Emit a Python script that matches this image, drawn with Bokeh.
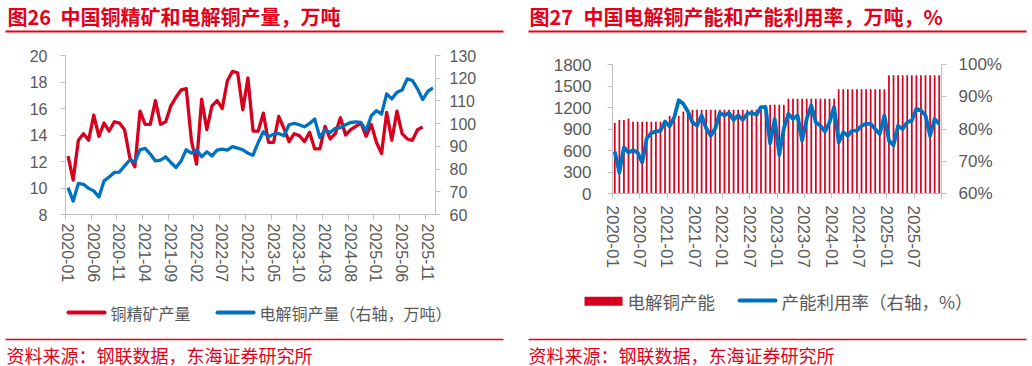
from bokeh.plotting import figure
from bokeh.models import Range1d, LinearAxis, FixedTicker, ColumnDataSource
from bokeh.core.properties import value
from bokeh.transform import dodge
from bokeh.layouts import row, column
from bokeh.embed import file_html
from bokeh.resources import INLINE

# ---------------- data ----------------
months = [f"{y}-{m:02d}" for y in range(2020, 2026) for m in range(1, 13)]

# 铜精矿产量 (万吨, left axis) 2020-01 .. 2025-10
conc = [12.4, 10.6, 13.6, 14.1, 13.6, 15.5, 13.9, 14.9, 14.3, 15.0, 14.9, 14.4,
        12.3, 11.6, 15.8, 14.8, 14.8, 16.6, 14.8, 15.0, 16.2, 16.85, 17.4, 17.5,
        13.6, 11.8, 16.7, 14.4, 16.2, 16.6, 16.0, 18.1, 18.8, 18.7, 15.9, 18.3,
        14.3, 14.3, 15.65, 13.45, 13.45, 15.4, 14.5, 13.5, 14.1, 13.95, 13.5, 14.2,
        12.95, 12.95, 14.65, 13.7, 14.1, 15.3, 14.0, 14.4, 14.65, 14.9, 13.9, 14.8,
        13.45, 12.6, 15.7, 13.6, 15.8, 14.1, 13.7, 13.6, 14.4, 14.6]

# 电解铜产量 (万吨, right axis) 2020-01 .. 2025-12
elec = [71.8, 65.9, 73.7, 73.3, 71.5, 70.4, 67.7, 74.8, 76.5, 78.5, 78.7, 81.4,
        84.0, 83.2, 88.5, 89.1, 86.6, 83.6, 83.9, 85.4, 82.9, 80.7, 83.6, 88.5,
        87.0, 88.5, 85.4, 87.6, 85.8, 88.3, 88.8, 88.3, 89.9, 89.2, 88.5, 87.0,
        86.1, 91.7, 96.4, 94.2, 95.4, 95.7, 94.7, 99.5, 100.1, 99.5, 98.6, 100.1,
        102.0, 93.9, 97.2, 96.1, 97.9, 98.3, 99.5, 100.5, 100.8, 100.5, 96.9, 103.5,
        105.7, 104.2, 113.1, 110.9, 113.8, 114.8, 119.7, 119.0, 115.3, 110.6, 114.2, 115.7]

# 电解铜产能 (万吨) 2020-01 .. 2025-12
cap = [985, 1025, 1025, 1045, 1000, 1000, 1000, 1000, 1000, 1000, 1000, 1000,
       1080, 1080, 1080, 1145, 1145, 1170, 1170, 1170, 1170, 1170, 1170, 1170,
       1170, 1170, 1170, 1170, 1170, 1170, 1170, 1170, 1170, 1237, 1237, 1237,
       1237, 1237, 1322, 1322, 1322, 1322, 1322, 1322, 1322, 1322, 1322, 1322,
       1322, 1453, 1453, 1453, 1453, 1453, 1453, 1453, 1453, 1453, 1453, 1453,
       1650, 1650, 1650, 1650, 1650, 1650, 1650, 1650, 1650, 1650, 1650, 1650]

# 产能利用率 (%) 2020-01 .. 2025-12
util = [73.0, 66.5, 74.3, 72.7, 73.4, 72.7, 69.6, 77.1, 78.75, 79.2, 79.5, 82.3,
        80.8, 83.6, 88.9, 87.8, 85.4, 82.1, 81.0, 84.2, 80.2, 77.9, 80.2, 85.0,
        84.2, 85.0, 82.8, 84.2, 82.8, 84.7, 85.0, 84.4, 86.8, 86.8, 75.5, 83.1,
        72.0, 80.2, 84.7, 83.1, 84.2, 76.4, 83.1, 87.3, 82.1, 81.0, 79.2, 82.1,
        86.8, 75.8, 79.0, 77.9, 79.5, 79.5, 81.0, 81.6, 81.6, 80.0, 78.4, 84.2,
        76.4, 75.0, 81.0, 80.0, 82.1, 82.6, 86.25, 85.7, 84.2, 77.9, 83.1, 81.6]

left_ticks = [8, 10, 12, 14, 16, 18, 20]
left_r_ticks = [60, 70, 80, 90, 100, 110, 120, 130]
right_ticks = [0, 300, 600, 900, 1200, 1500, 1800]
right_r_ticks = [60, 70, 80, 90, 100]

title_nums = ["图26", "图27"]
title_texts = ["中国铜精矿和电解铜产量，万吨", "中国电解铜产能和产能利用率，万吨，%"]
source_text = "资料来源：钢联数据，东海证券研究所"
legend_left = ["铜精矿产量", "电解铜产量（右轴，万吨）"]
legend_right = ["电解铜产能", "产能利用率（右轴，%）"]

# ---------------- style ----------------
RED = "#D7001E"
BLUE = "#0070C0"
TRED = "#E3001A"
GRAY = "#595959"
AXC = "#BFBFBF"
CJK = "'Noto Sans CJK SC', 'Liberation Sans', sans-serif"
NUM = "'Liberation Sans', 'Noto Sans CJK SC', sans-serif"
W = 1030
Y_CHART_BOTTOM = 283   # page y where the chart row ends and the footer starts
Y_PAGE_BOTTOM = 366


def style_axis(ax, size, standoff):
    ax.axis_line_color = AXC
    ax.major_tick_line_color = AXC
    ax.minor_tick_line_color = None
    ax.major_tick_in = 0
    ax.major_tick_out = 5
    ax.major_label_text_font = NUM
    ax.major_label_text_font_size = size
    ax.major_label_text_color = GRAY
    ax.major_label_standoff = standoff


def make_fig(fw, fh, bl, br, bt, bb, xr, yr):
    p = figure(frame_width=fw, frame_height=fh, min_border_left=bl, min_border_right=br,
               min_border_top=bt, min_border_bottom=bb, x_range=xr, y_range=yr,
               x_axis_type=None, y_axis_type=None, output_backend="svg",
               toolbar_location=None, title=None)
    p.outline_line_color = None
    p.background_fill_color = "white"
    p.border_fill_color = "white"
    try:
        p.frame_align = False
    except Exception:
        pass
    return p


def make_strip(y0, y1):
    # a plain drawing strip whose data units are page pixels
    return make_fig(W, y1 - y0, 0, 0, 0, 0, Range1d(0, W), Range1d(y1, y0))


def text(p, x, y, t, size, color, bold=False):
    p.text(x=[x], y=[y], text=[t], text_font=value(CJK), text_font_size=value(size),
           text_font_style="bold" if bold else "normal", text_color=color,
           text_baseline="middle", text_align="left")


# ================= header =================
head = make_strip(0, 40)
text(head, 7, 15.5, title_nums[0], "20px", TRED, bold=True)
text(head, 60, 15.5, title_texts[0], "20px", TRED, bold=True)
text(head, 529, 15.5, title_nums[1], "20px", TRED, bold=True)
text(head, 583, 15.5, title_texts[1], "20px", TRED, bold=True)
head.quad(left=[5, 528], right=[503, 1026], top=[30, 30], bottom=[32, 32],
          fill_color=TRED, line_color=None)

# ================= left chart =================
src1 = ColumnDataSource(dict(idx=list(range(len(conc))), v=conc))
src1b = ColumnDataSource(dict(idx=list(range(len(elec))), v=elec))

p1 = make_fig(370, 159, 65, 81, 15, Y_CHART_BOTTOM - 214,
              Range1d(-0.5, 71.5), Range1d(8, 20))
p1.extra_y_ranges = {"r": Range1d(60, 130)}

axl = LinearAxis(ticker=FixedTicker(ticks=left_ticks))
style_axis(axl, "16px", 13)
p1.add_layout(axl, "left")

axr = LinearAxis(y_range_name="r", ticker=FixedTicker(ticks=left_r_ticks))
style_axis(axr, "16px", 9)
p1.add_layout(axr, "right")

lab_idx1 = list(range(0, 71, 5))
axb = LinearAxis(ticker=FixedTicker(ticks=lab_idx1, minor_ticks=[k - 0.5 for k in lab_idx1]),
                 major_label_overrides={k: months[k] for k in lab_idx1})
style_axis(axb, "16px", 4)
axb.major_tick_line_color = None
axb.minor_tick_line_color = AXC
axb.minor_tick_in = 0
axb.minor_tick_out = 5
axb.major_label_orientation = "vertical"
p1.add_layout(axb, "below")

p1.line("idx", "v", source=src1, line_color=RED, line_width=3.3, line_join="round")
p1.line("idx", "v", source=src1b, y_range_name="r", line_color=BLUE,
        line_width=3.3, line_join="round")

# ================= right chart =================
src2 = ColumnDataSource(dict(idx=list(range(len(cap))), cap=cap, util=util))

p2 = make_fig(329, 129, 96, 89, 24, Y_CHART_BOTTOM - 193,
              Range1d(0, 72), Range1d(0, 1800))
p2.extra_y_ranges = {"r": Range1d(60, 100)}

ayl = LinearAxis(ticker=FixedTicker(ticks=right_ticks))
style_axis(ayl, "17px", 16)
p2.add_layout(ayl, "left")

ayr = LinearAxis(y_range_name="r", ticker=FixedTicker(ticks=right_r_ticks),
                 major_label_overrides={t: f"{t}%" for t in right_r_ticks})
style_axis(ayr, "17px", 12)
p2.add_layout(ayr, "right")

lab_idx2 = list(range(0, 73, 6))
over2 = {k: (months[k] if k < 72 else "") for k in lab_idx2}
ax2b = LinearAxis(ticker=FixedTicker(ticks=lab_idx2), major_label_overrides=over2)
style_axis(ax2b, "17px", 7)
ax2b.major_label_orientation = "vertical"
p2.add_layout(ax2b, "below")

p2.vbar(x=dodge("idx", 0.5), top="cap", width=0.38, source=src2,
        fill_color=RED, line_color=None)
p2.line(x=dodge("idx", 0.5), y="util", source=src2, y_range_name="r",
        line_color=BLUE, line_width=3.8, line_join="round")

# ================= footer (legends, sources) =================
foot = make_strip(Y_CHART_BOTTOM, Y_PAGE_BOTTOM)
# left legend
foot.segment(x0=[68, 217], y0=[310, 310], x1=[104, 253], y1=[310, 310],
             line_color=[RED, BLUE], line_width=4, line_cap="round")
text(foot, 110, 310, legend_left[0], "16px", GRAY)
text(foot, 259, 310, legend_left[1], "16px", GRAY)
# right legend
foot.quad(left=[584], right=[622], top=[294.3], bottom=[303.3], fill_color=RED, line_color=None)
foot.segment(x0=[739], y0=[298], x1=[775], y1=[298], line_color=BLUE, line_width=4,
             line_cap="round")
text(foot, 627, 299, legend_right[0], "17.5px", GRAY)
text(foot, 781, 298.5, legend_right[1], "17.5px", GRAY)
# bottom rules and sources
foot.quad(left=[5, 528], right=[503, 1026], top=[336.2, 336.2], bottom=[337.8, 337.8],
          fill_color=TRED, line_color=None)
text(foot, 6, 352, source_text, "18px", TRED)
text(foot, 528, 352, source_text, "18px", TRED)

layout = column(head, row(p1, p2), foot)
open("out.html", "w").write(file_html(layout, INLINE))
